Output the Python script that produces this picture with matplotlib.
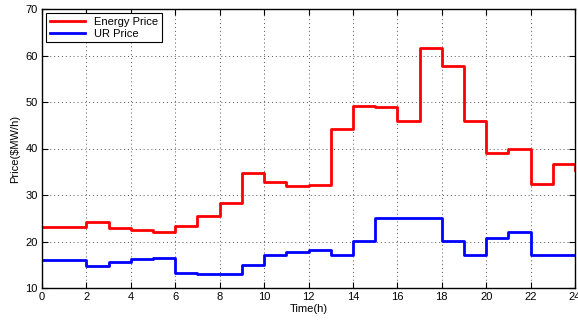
import numpy as np
import matplotlib
matplotlib.use("Agg")
from matplotlib import pyplot as plt

plt.rcParams['font.family'] = ['Liberation Sans', 'DejaVu Sans']

# hourly prices, last value is where the line ends at hour 24
hours = np.arange(0, 25)
energy_price = [23.2, 23.2, 24.2, 22.8, 22.4, 22.1, 23.4, 25.4, 28.2, 34.8, 32.7, 31.9,
                32.2, 44.2, 49.1, 48.9, 46.0, 61.6, 57.7, 45.9, 39.0, 39.8, 32.3, 36.6, 35.3]
ur_price = [16.1, 16.1, 14.7, 15.6, 16.2, 16.5, 13.2, 13.0, 13.0, 15.0, 17.1, 17.7,
            18.1, 17.2, 20.1, 25.0, 25.0, 25.0, 20.2, 17.0, 20.8, 22.1, 17.1, 17.1, 17.1]

fig = plt.figure(figsize=(5.78, 3.2), dpi=100)
ax = fig.add_axes([42/578, 1-288/320, 533/578, 279/320])

ax.step(hours, energy_price, where='post', color='#ff0000', lw=2.0, label='Energy Price')
ax.step(hours, ur_price, where='post', color='#0000ff', lw=2.0, label='UR Price')

ax.set_xlim(0, 24)
ax.set_ylim(10, 70)
ax.set_xticks(range(0, 25, 2))
ax.set_yticks(range(10, 71, 10))
ax.grid(True, linestyle=(0, (1, 3)), color='#555555', lw=0.7)
ax.tick_params(direction='in', top=True, right=True, labelsize=8, length=4, width=0.8, pad=3)
for s in ax.spines.values():
    s.set_linewidth(1.0)
ax.set_xlabel('Time(h)', fontsize=8, labelpad=1)
ax.set_ylabel('Price($MW/h)', fontsize=8, labelpad=4)

leg = ax.legend(loc='upper left', fontsize=8, frameon=True, fancybox=False,
                edgecolor='black', framealpha=1, handlelength=3.2, borderpad=0.3,
                labelspacing=0.2, borderaxespad=0.4)
leg.get_frame().set_linewidth(0.8)

fig.savefig('out.png', dpi=100)
